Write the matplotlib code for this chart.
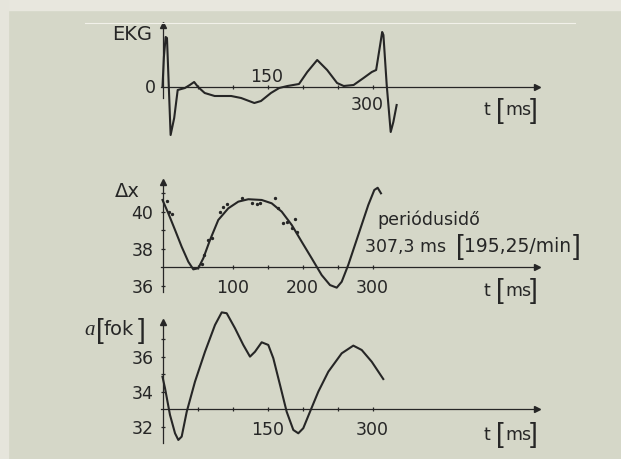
import matplotlib.pyplot as plt
from matplotlib.lines import Line2D
from matplotlib.patches import Rectangle
from matplotlib.ticker import FixedLocator, NullFormatter

# EKG (t in ms, arbitrary units, 0 = isoelectric line)
ekg_t = [0, 2.0, 4.5, 6.4, 11.6, 16.7, 21.7, 32.0, 39.0, 45.2, 50.8, 60.3, 74.5,
         98.1, 112.3, 131.2, 140.7, 154.9, 166.7, 178.5, 195.0, 206.8, 221.0,
         235.2, 249.4, 258.9, 273.0, 287.2, 299.0, 305.2, 310.9, 313.8, 315.6,
         320.3, 326.0, 329.8, 334.5]
ekg_v = [0.0, 3.0, 5.0, 4.9, -4.8, -3.1, -0.3, -0.1, 0.2, 0.5, 0.0, -0.6, -0.9,
         -0.9, -1.1, -1.6, -1.4, -0.6, -0.1, 0.1, 0.3, 1.5, 2.7,
         1.7, 0.4, 0.1, 0.2, 0.9, 1.5, 1.7, 4.2, 5.5, 5.2,
         0.2, -4.5, -3.5, -1.8]

# Δx fitted curve
dx_t = [0, 8.3, 17.9, 27.4, 36.9, 44.0, 51.1, 58.3, 67.9, 79.7, 94.0, 108.3,
        122.6, 141.7, 156.0, 170.3, 184.6, 198.9, 213.1, 227.4, 239.3, 248.9,
        256.0, 265.4, 279.7, 294.0, 302.6, 307.4, 312.1]
dx_v = [40.65, 39.93, 39.03, 38.12, 37.31, 36.90, 36.96, 37.50, 38.49, 39.57,
        40.20, 40.56, 40.69, 40.65, 40.47, 40.02, 39.30, 38.39, 37.50, 36.59,
        36.05, 35.91, 36.23, 37.14, 38.76, 40.38, 41.19, 41.31, 41.01]
# Δx measured points
dx_pts_t = [6, 9.3, 13, 56, 59.8, 65.5, 70.2, 82, 86.9, 91.7, 113, 127.4,
            134.6, 139.3, 160.7, 165.4, 172.6, 177.4, 184.6, 189.3, 191.7]
dx_pts_v = [40.59, 39.98, 39.9, 37.17, 37.68, 38.49, 38.58, 40.02, 40.29, 40.42,
            40.74, 40.47, 40.43, 40.47, 40.74, 40.20, 39.39, 39.48, 39.12, 39.62,
            38.94]

# a [fok]
a_t = [0, 3.6, 10.7, 17.9, 22.6, 27.4, 34.6, 46.4, 60.7, 75.0, 84.6, 91.7,
       103.6, 115.4, 125.0, 132.1, 141.7, 151.1, 158.3, 167.9, 177.4, 186.9,
       194.0, 201.1, 210.7, 222.6, 236.9, 256.0, 272.6, 284.6, 298.9, 315.4]
a_v = [34.87, 34.21, 32.69, 31.64, 31.26, 31.45, 32.87, 34.59, 36.30, 37.83,
       38.55, 38.50, 37.64, 36.69, 36.02, 36.30, 36.84, 36.69, 35.93, 34.40,
       32.87, 31.83, 31.64, 31.93, 32.87, 34.02, 35.16, 36.21, 36.65, 36.40,
       35.73, 34.74]

W, H = 621, 459
BG = "#d5d7c8"
INK = "#262626"
X0, PX_MS = 162.5, 0.70
FS = 12.5

fig = plt.figure(figsize=(W / 100, H / 100), dpi=100)
fig.patch.set_facecolor(BG)
fig.patches.append(Rectangle((0, 1 - 10 / H), 1, 10 / H, transform=fig.transFigure,
                             color="#e8e7de", zorder=0))
fig.patches.append(Rectangle((0, 0), 8 / W, 1, transform=fig.transFigure,
                             color="#e6e5dc", zorder=0))
fig.lines.append(Line2D([85 / W, 575 / W], [1 - 23 / H, 1 - 23 / H],
                        transform=fig.transFigure, color="#f2f1ea", lw=0.8))


def ftext(x, y, s, size=FS, ha="left", **kw):
    # text placed in pixel coords of the picture, y = baseline
    fig.text(x / W, 1 - y / H, s, fontsize=size, ha=ha, va="baseline", color=INK, **kw)


def bracket(x, y, s):
    # tall thin bracket like in the original typesetting
    ftext(x, y + 2.5, s, size=20, family="Liberation Sans")


def make_ax(top, bottom, ylim, base, ybot, ytop):
    ax = fig.add_axes([0, 1 - bottom / H, 1, (bottom - top) / H])
    ax.patch.set_alpha(0)
    ax.set_xlim(-X0 / PX_MS, (W - X0) / PX_MS)
    ax.set_ylim(*ylim)
    for s in ("top", "right"):
        ax.spines[s].set_visible(False)
    ax.spines["left"].set_position(("data", 0))
    ax.spines["bottom"].set_position(("data", base))
    ax.spines["left"].set_bounds(ybot, ytop)
    xend = (537 - X0) / PX_MS
    ax.spines["bottom"].set_bounds(-2, xend)
    for s in ("left", "bottom"):
        ax.spines[s].set_linewidth(0.9)
        ax.spines[s].set_color(INK)
    ax.plot([xend], [base], marker=">", ms=5, color=INK, clip_on=False)
    ax.plot([0], [ytop], marker="^", ms=4, color=INK, clip_on=False)
    ax.tick_params(which="both", direction="inout", length=3, width=0.9,
                   color=INK, labelcolor=INK, labelsize=FS)
    return ax


# --- EKG ---
ax1 = make_ax(20, 145, (-5.8, 6.7), 0, -1.1, 6.2)
ax1.xaxis.set_major_locator(FixedLocator([50, 100, 150, 200, 250, 300]))
ax1.xaxis.set_major_formatter(NullFormatter())
ax1.set_yticks([])
ax1.plot(ekg_t, ekg_v, color=INK, lw=1.5)
ftext(152, 40, "EKG", ha="right", size=14)
ftext(156, 93, "0", ha="right")
ftext(267, 82, "150", ha="center")
ftext(367, 110, "300", ha="center")

# --- Δx ---
ax2 = make_ax(175, 300, (35.243, 42.0), 37, 35.7, 41.6)
ax2.xaxis.set_major_locator(FixedLocator([100, 200, 300]))
ax2.xaxis.set_minor_locator(FixedLocator([50, 150, 250]))
ax2.yaxis.set_major_locator(FixedLocator([36, 38, 40]))
ax2.yaxis.set_minor_locator(FixedLocator([39, 41]))
ax2.tick_params(axis="x", pad=7)
ax2.tick_params(axis="y", pad=5)
ax2.plot(dx_t, dx_v, color=INK, lw=1.5)
ax2.plot(dx_pts_t, dx_pts_v, "o", ms=1.4, color=INK)
ftext(115, 197, "Δx", size=14)
ftext(377, 225, "periódusidő")
ftext(365, 252, "307,3 ms")
bracket(456, 252, "[")
ftext(464, 252, "195,25/min", size=13.5)
bracket(573, 252, "]")

# --- a [fok] ---
ax3 = make_ax(305, 459, (30.171, 38.971), 33, 31.1, 38.0)
ax3.xaxis.set_major_locator(FixedLocator([150, 300]))
ax3.xaxis.set_minor_locator(FixedLocator([50, 100, 200, 250]))
ax3.yaxis.set_major_locator(FixedLocator([32, 34, 36]))
ax3.yaxis.set_minor_locator(FixedLocator([35, 37]))
ax3.tick_params(axis="x", pad=7)
ax3.tick_params(axis="y", pad=5)
ax3.plot(a_t, a_v, color=INK, lw=1.5)
ftext(84, 335, "a", size=15, family="Liberation Serif", style="italic")
bracket(96, 335, "[")
ftext(104, 335, "fok", size=14)
bracket(138, 335, "]")

# unit labels of the time axes
for yb in (115, 296, 440):
    ftext(483, yb, "t")
    bracket(496, yb, "[")
    ftext(505, yb, "ms")
    bracket(530, yb, "]")

fig.savefig("out.png", dpi=100, facecolor=BG)
